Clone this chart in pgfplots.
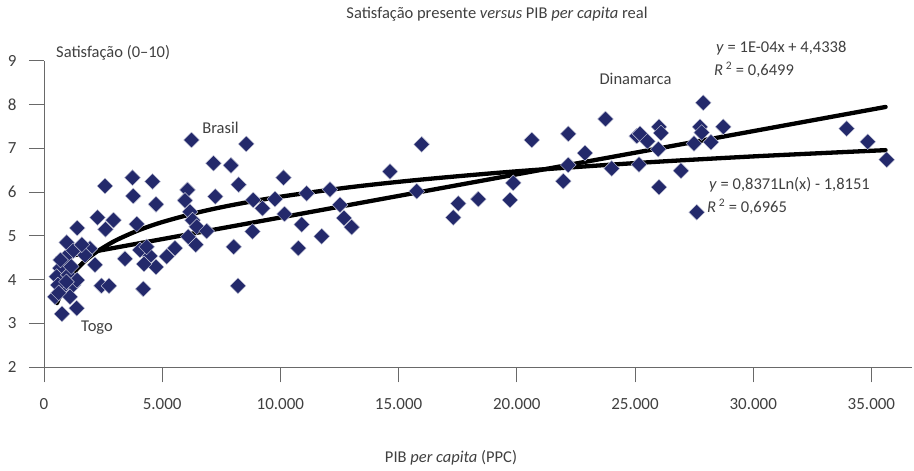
\documentclass[border=0pt]{standalone}
\usepackage{fontspec}
\setmainfont{Carlito}
\usepackage{pgfplots}
\pgfplotsset{compat=1.18}
\definecolor{navy}{RGB}{35,41,107}
\definecolor{axgray}{RGB}{105,105,105}
\definecolor{txt}{RGB}{64,64,64}
\begin{document}
\begin{tikzpicture}[x=1pt,y=1pt]
\useasboundingbox (0,0) rectangle (914,471);
\begin{axis}[
  at={(44pt,103.7pt)}, anchor=south west,
  width=867.6pt, height=306.6pt, scale only axis,
  xmin=0, xmax=36700, ymin=2, ymax=9,
  axis lines=left,
  axis line style={-, axgray, line width=0.8pt},
  tick align=outside, major tick length=15pt,
  tick style={axgray, line width=0.8pt},
  xtick={0,5000,10000,15000,20000,25000,30000,35000},
  ytick={2,3,4,5,6,7,8,9},
  ticklabel style={font=\fontsize{17}{20}\selectfont, text=txt},
  xticklabel style={yshift=-13pt},
  yticklabel style={xshift=-9pt},
  scaled x ticks=false,
  clip=false,
  /pgf/number format/.cd, use comma, 1000 sep={.}, assume math mode=true,
]
\addplot[only marks, mark=square*, mark size=5.6pt,
  mark options={rotate=45, fill=navy, draw=white!75!navy, line width=0.4pt}]
coordinates {
(2580,6.14) (3744,6.33) (4590,6.24) (3777,5.91) (4738,5.72) (1409,5.18)
(2263,5.42) (2940,5.36) (2601,5.15) (3921,5.27) (960,4.85) (1946,4.71)
(1239,4.66) (2157,4.34) (3426,4.48) (4061,4.68) (4484,4.54) (4738,4.29)
(4230,4.36) (677,4.26) (537,4.07) (1028,4.11) (816,3.84) (1239,3.88)
(465,3.61) (1383,3.35) (761,3.22) (2432,3.86) (2750,3.86) (4200,3.79)
(1100,3.61) (1396,3.99) (888,4.50) (592,3.88) (1734,4.56) (4344,4.75)
(6239,7.19) (8557,7.10) (7170,6.66) (7910,6.61) (8236,6.17) (10131,6.33)
(6070,6.05) (7246,5.90) (5964,5.81) (8853,5.82) (9243,5.63) (9771,5.84)
(10173,5.50) (6176,5.55) (6282,5.36) (6459,5.21) (6882,5.11) (8820,5.10)
(6421,4.80) (8024,4.75) (5541,4.72) (5190,4.53) (8206,3.86) (6104,4.98)
(15977,7.09) (14636,6.47) (15765,6.02) (11112,5.97) (12098,6.06) (12521,5.71)
(12690,5.41) (13016,5.20) (10901,5.26) (11747,4.99) (10757,4.72) (17525,5.74)
(17313,5.42) (20630,7.19) (22178,7.33) (23751,7.67) (25071,7.28) (22884,6.89)
(22178,6.62) (24014,6.54) (21966,6.25) (19851,6.21) (19712,5.82) (18371,5.84)
(27888,8.04) (26015,7.49) (25211,7.33) (25528,7.16) (25985,6.98) (27749,7.49)
(28734,7.49) (27821,7.36) (27495,7.11) (28214,7.14) (25169,6.63) (26945,6.49)
(26015,6.11) (27609,5.54) (33954,7.45) (34847,7.15) (35646,6.74) (26099,7.35)
(700,4.45) (1150,4.30) (620,3.70) (950,3.95) (1600,4.80)
};
% linear trend
\addplot[black, line width=4.3pt, line cap=round] coordinates {(550,4.488) (35600,7.944)};
% logarithmic trend
\addplot[black, line width=4.3pt, line cap=round, smooth] coordinates {
(550,3.467) (800,3.781) (1000,3.967) (1300,4.187) (1700,4.412) (2200,4.627)
(3000,4.887) (4000,5.128) (5000,5.315) (6500,5.534) (8000,5.708) (10000,5.895)
(13000,6.115) (16000,6.288) (20000,6.475) (25000,6.662) (30000,6.815) (35600,6.958)
};
\end{axis}
\begin{scope}[every node/.style={text=txt, inner sep=0pt, font=\fontsize{16.5}{19}\selectfont}]
\node at (497,457) {Satisfação presente \textit{versus} PIB \textit{per capita} real};
\node at (451,13) {PIB \textit{per capita} (PPC)};
\node[anchor=west] at (56,418) {Satisfação (0–10)};
\node at (220.5,343) {Brasil};
\node at (97,143) {Togo};
\node at (635.5,392) {Dinamarca};
\node[anchor=west] at (716,423) {\textit{y} = 1E-04x + 4,4338};
\node[anchor=west] at (714,401) {\textit{R}\,\textsuperscript{2} = 0,6499};
\node[anchor=west] at (709,286) {\textit{y} = 0,8371Ln(x) - 1,8151};
\node[anchor=west] at (707,264) {\textit{R}\,\textsuperscript{2} = 0,6965};
\end{scope}
\end{tikzpicture}
\end{document}
